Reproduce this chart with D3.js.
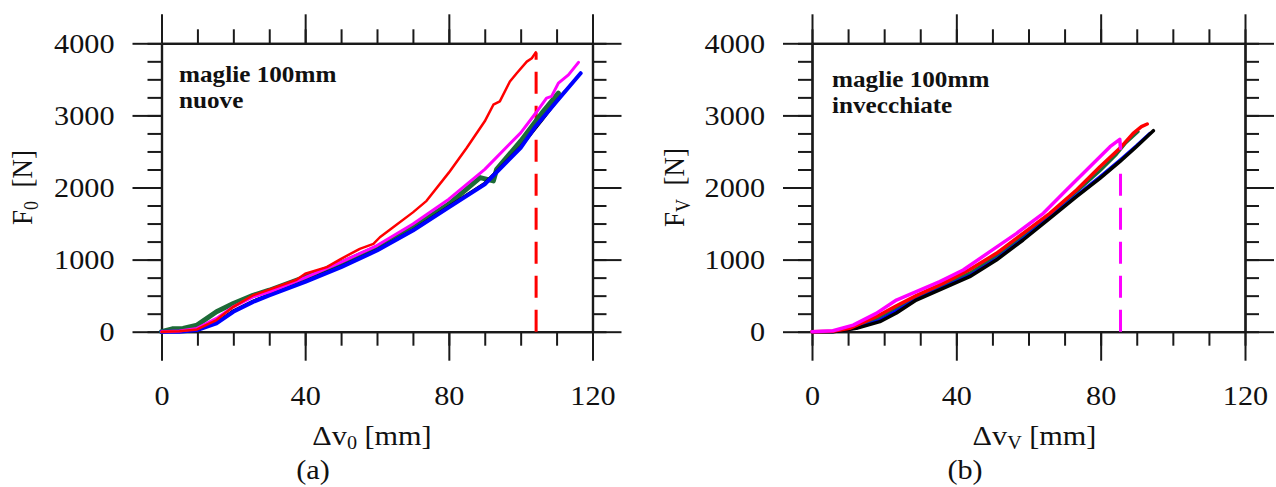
<!DOCTYPE html>
<html>
<head>
<meta charset="utf-8">
<script src="https://cdn.jsdelivr.net/npm/d3@7/dist/d3.min.js"></script>
<style>
  body { margin: 0; background: #fff; }
  text { font-family: "Liberation Serif", "Times New Roman", serif; fill: #111; }
</style>
</head>
<body>
<svg width="1276" height="487"></svg>
<script>
// ---------------------------------------------------------------
// data: [displacement mm, force N]
const xMajor = [0, 40, 80, 120];
const xMinor = d3.range(0, 121, 10);
const yMajor = [0, 1000, 2000, 3000, 4000];
const yMinor = d3.range(0, 4001, 250);

// (a) maglie 100mm nuove
const aGreen = [[0,0],[3,40],[6,46],[9.9,92],[15.3,276],[20,390],[25.5,505],[30,575],[40,758],[50,951],[60,1172],[70,1448],[80,1769],[88.7,2137],[92.4,2091],[93.3,2252],[100,2643],[106.3,3056],[110.5,3309]];
const aBlack = [[0,0],[5,5],[9.9,28],[15.3,125],[20,290],[25.5,425],[30,515],[40,700],[50,905],[60,1135],[70,1410],[80,1735],[90,2060],[92.5,2183],[100,2565],[106,2940],[110,3200],[112.3,3332]];
const aBlue = [[0,0],[5,0],[9.9,23],[15.3,115],[20,276],[25.5,414],[30,505],[40,690],[50,896],[60,1126],[70,1402],[80,1724],[90,2045],[100,2551],[104.2,2850],[110,3194],[116.7,3585]];
const aMagenta = [[0,0],[5,10],[9.9,46],[15.3,184],[20,345],[25.5,483],[30,552],[40,749],[50,965],[60,1195],[70,1494],[80,1838],[90,2252],[100,2758],[104.2,3033],[107.2,3240],[108.6,3263],[110.5,3447],[113.3,3562],[116.1,3736]];
const aRed = [[0,0],[5,5],[9.9,32],[15.3,161],[20,345],[25.5,505],[30,584],[37.6,721],[40,804],[46,896],[50,1011],[55.2,1149],[59,1218],[60.8,1310],[64.5,1448],[70,1655],[73.8,1815],[80,2206],[85,2551],[90,2918],[92.4,3148],[94.2,3194],[97,3470],[98.9,3585],[101.7,3746],[103.1,3792],[104.2,3874]];
const aLimit = [104.3, 3874];

// (b) maglie 100mm invecchiate
const bGreen = [[0,0],[5.8,5],[12.3,70],[18.8,200],[23.4,330],[28.9,480],[36.3,645],[43.7,815],[51.1,1050],[58.5,1330],[65.9,1630],[73.3,1940],[79.8,2230],[84.4,2460],[87,2620],[90.4,2774]];
const bBlue = [[0,0],[5.8,0],[12.3,50],[18.8,160],[23.4,290],[28.9,450],[36.3,615],[43.7,780],[51.1,1010],[58.5,1290],[65.9,1590],[73.3,1890],[79.8,2150],[85.3,2380],[89.9,2580],[93.6,2751]];
const bBlack = [[0,0],[5.8,0],[12.3,46],[18.8,139],[23.4,260],[28.9,439],[36.3,601],[43.7,763],[51.1,994],[58.5,1272],[65.9,1572],[73.3,1873],[79.8,2127],[85.3,2358],[89.9,2566],[94.6,2788]];
const bRed = [[0,0],[5.8,5],[10.4,46],[17.8,208],[23.4,360],[28.9,500],[36.3,670],[43.5,855],[51.1,1087],[58.5,1364],[65.9,1642],[73.3,1965],[79.8,2289],[85.3,2543],[89,2751],[91.3,2844],[92.9,2881]];
const bMagenta = [[0,0],[5.8,14],[11.4,92],[17.8,254],[23.4,439],[28.9,555],[35.4,694],[41.9,855],[49.3,1110],[56.7,1364],[64.1,1642],[70.5,1965],[77,2289],[82.6,2566],[85.3,2668],[85.5,2543]];
const bLimit = [85.5, 2320];

// ---------------------------------------------------------------
const svg = d3.select('svg');
const STRETCH = 1.12;   // the source text is a bit wider than plain Times
const plotTop = 43.3, plotH = 288.4;

drawPanel({
  left: 161.5, width: 431,
  series: [
    { data: aGreen, color: '#1d6b37', w: 5 },
    { data: aBlack, color: '#000000', w: 3 },
    { data: aBlue, color: '#0000ff', w: 4 },
    { data: aMagenta, color: '#ff00ff', w: 3 },
    { data: aRed, color: '#ff0000', w: 2.5 }
  ],
  limit: aLimit, limitColor: '#ff0000',
  note: ['maglie 100mm', 'nuove'], noteX: 179, noteY: 81.7,
  yTitle: 'F', ySub: '0', yTitleX: 32,
  xTitle: 'Δv', xSub: '0', xTitleDx: -5,
  panel: '(a)', panelX: 313
});

drawPanel({
  left: 812, width: 433,
  series: [
    { data: bGreen, color: '#1d6b37', w: 3 },
    { data: bBlue, color: '#0000ff', w: 3 },
    { data: bBlack, color: '#000000', w: 3.5 },
    { data: bRed, color: '#ff0000', w: 3.5 },
    { data: bMagenta, color: '#ff00ff', w: 3.5 }
  ],
  limit: bLimit, limitColor: '#ff00ff',
  note: ['maglie 100mm', 'invecchiate'], noteX: 832, noteY: 86.7,
  yTitle: 'F', ySub: 'V', yTitleX: 684,
  xTitle: 'Δv', xSub: 'V', xTitleDx: 6,
  panel: '(b)', panelX: 965
});

// ---------------------------------------------------------------
function drawPanel(p) {
  const x = d3.scaleLinear().domain([0, 120]).range([p.left, p.left + p.width]);
  const y = d3.scaleLinear().domain([0, 4000]).range([plotTop + plotH, plotTop]);
  const g = svg.append('g');

  // outward ticks on all four sides, minor then major
  const sides = [
    { axis: d3.axisBottom, scale: x, tr: `translate(0,${plotTop + plotH})`, labels: true },
    { axis: d3.axisTop, scale: x, tr: `translate(0,${plotTop})`, labels: false },
    { axis: d3.axisLeft, scale: y, tr: `translate(${p.left},0)`, labels: true },
    { axis: d3.axisRight, scale: y, tr: `translate(${p.left + p.width},0)`, labels: false }
  ];
  sides.forEach(s => {
    const isX = s.scale === x;
    g.append('g').attr('transform', s.tr)
      .call(s.axis(s.scale).tickValues(isX ? xMinor : yMinor).tickSize(14).tickSizeOuter(0).tickFormat(''));
    const ax = g.append('g').attr('transform', s.tr)
      .call(s.axis(s.scale).tickValues(isX ? xMajor : yMajor).tickSize(29).tickSizeOuter(0)
        .tickFormat(s.labels ? d3.format('d') : ''));
    if (s.labels) {
      const t = ax.selectAll('text').style('font-size', '27px').attr('fill', '#111');
      if (isX) t.attr('y', 73).attr('dy', 0).attr('x', 0).attr('transform', `scale(${STRETCH},1)`);
      else t.attr('x', -47 / STRETCH).attr('dy', '0.33em').attr('transform', `scale(${STRETCH},1)`);
    }
  });
  g.selectAll('.domain, .tick line').attr('stroke', '#1a1a1a').attr('stroke-width', 2);
  g.selectAll('.domain').attr('stroke-width', 2.2);

  // dashed limit line
  g.append('line')
    .attr('x1', x(p.limit[0])).attr('x2', x(p.limit[0]))
    .attr('y1', y(0)).attr('y2', y(p.limit[1]))
    .attr('stroke', p.limitColor).attr('stroke-width', 3)
    .attr('stroke-dasharray', '22 12');

  // curves
  const line = d3.line().x(d => x(d[0])).y(d => y(d[1]));
  p.series.forEach(s => {
    g.append('path').datum(s.data)
      .attr('d', line)
      .attr('fill', 'none')
      .attr('stroke', s.color)
      .attr('stroke-width', s.w)
      .attr('stroke-linejoin', 'round')
      .attr('stroke-linecap', 'round');
  });

  // note
  const note = g.append('text')
    .attr('transform', `translate(${p.noteX},${p.noteY}) scale(${STRETCH},1)`)
    .style('font-size', '22.5px').style('font-weight', 'bold');
  p.note.forEach((s, i) => note.append('tspan').attr('x', 0).attr('y', i * 26.3).text(s));

  // y title
  const yt = g.append('text')
    .attr('transform', `translate(${p.yTitleX},${plotTop + plotH / 2}) scale(${STRETCH},1) rotate(-90)`)
    .attr('text-anchor', 'middle').style('font-size', '27px');
  yt.append('tspan').text(p.yTitle);
  yt.append('tspan').attr('dy', 5).style('font-size', '18px').text(p.ySub);
  yt.append('tspan').attr('dy', -5).text('\u00a0 [N]');

  // x title
  const xt = g.append('text')
    .attr('transform', `translate(${p.left + p.width / 2 + p.xTitleDx},445) scale(${STRETCH},1)`)
    .attr('text-anchor', 'middle').style('font-size', '27px');
  xt.append('tspan').text(p.xTitle);
  xt.append('tspan').attr('dy', 4).style('font-size', '18px').text(p.xSub);
  xt.append('tspan').attr('dy', -4).text(' [mm]');

  // panel letter
  g.append('text')
    .attr('transform', `translate(${p.panelX},479) scale(${STRETCH},1)`)
    .attr('text-anchor', 'middle').style('font-size', '27px')
    .text(p.panel);
}
</script>
</body>
</html>
